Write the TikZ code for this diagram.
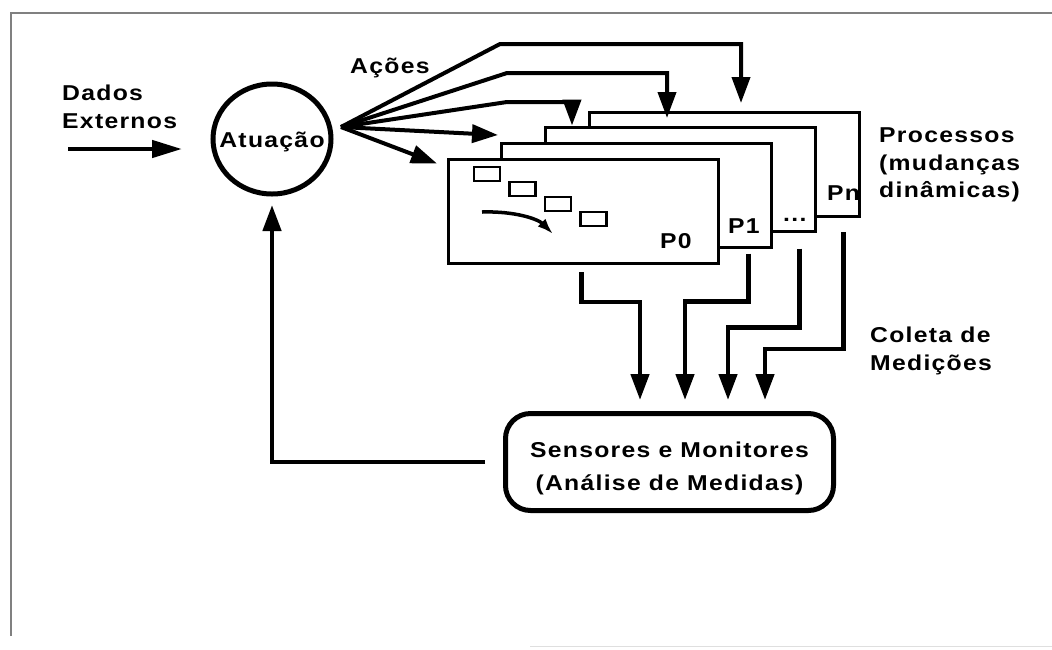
\documentclass[tikz,border=0pt]{standalone}
\usepackage{fontspec}
\newfontfamily\lblfont{Liberation Sans}[FakeStretch=1.15,LetterSpace=6]
\usetikzlibrary{arrows.meta,calc,positioning,shapes.geometric}

\begin{document}
\begin{tikzpicture}[x=1pt,y=-1pt,>={Triangle[length=26pt,width=18pt]},
  lbl/.style={font=\lblfont\bfseries\fontsize{21.5pt}{27.5pt}\selectfont,inner sep=0pt,align=left},
  proc/.style={draw,line width=3pt,fill=white,minimum width=270pt,minimum height=104pt,inner sep=0pt},
  act/.style={->,line width=4pt},
  flow/.style={->,line width=4.5pt}]
  \useasboundingbox (0,0) rectangle (1052,649);
  \draw[gray,line width=1.5pt] (11,636) -- (11,13) -- (1052,13);
  \draw[gray!25,line width=1pt] (530,646) -- (1052,646);

  \node[lbl,anchor=north west] (dados) at (62,85) {Dados\\Externos};
  \coordinate (inA) at (68,149);
  \coordinate (inB) at (182,149);
  \draw[flow,>={Triangle[length=30pt,width=17pt]}] (inA) -- (inB);

  \node[ellipse,draw,line width=5pt,minimum width=118pt,minimum height=110pt,
    label={[lbl,yshift=-3pt]center:Atuação}] (act) at (272,139) {};

  \node[proc] (pn) at (724,164.5) {};
  \node[proc] (pd) at (680,179) {};
  \node[proc] (p1) at (636,195) {};
  \node[proc] (p0) at (583,211.5) {};
  \node[lbl,anchor=base west] (lp0) at (660,248) {P0};
  \node[lbl,anchor=base west] (lp1) at (728,233) {P1};
  \node[lbl,anchor=base west] (lpd) at (783,221) {...};
  \node[lbl,anchor=base west] (lpn) at (827,200) {Pn};
  \foreach \i in {0,...,3}
    \draw[line width=2.5pt] (474+35.5*\i,167+15*\i) rectangle ++(26,14);
  \draw[line width=3.5pt,-{Latex[length=16pt,width=11pt]}] (482,212) .. controls (515,211) and (538,219) .. (553,234);

  \node[lbl,anchor=base west] (acoes) at (350,73) {Ações};
  \coordinate (fan) at (341,127);
  \draw[act,shorten >=8pt] (fan) -- (500,44) -| ([xshift=17pt]pn.north);
  \draw[act,shorten >=7.5pt] (fan) -- (507,73) -| ([xshift=-13pt]pd.north);
  \draw[act] (fan) -- (507,102) -| ([xshift=-108pt]pd.north);
  \draw[act] (fan) -- ($(p1.north west)+(-1.5,-6.5)$);
  \draw[act] (fan) -- ($(p0.north west)+(-9.5,5.5)$);

  \node[lbl,anchor=north west] (proc) at (879,128) {Processos\\(mudanças\\dinâmicas)};
  \node[lbl,anchor=north west] (coleta) at (870,327) {Coleta de\\Medições};

  \node[draw,rounded corners=25pt,line width=5pt,minimum width=328pt,minimum height=97pt,
    label={[lbl,font=\lblfont\bfseries\fontsize{21.5pt}{33pt}\selectfont,align=center,yshift=-6pt]center:Sensores e Monitores\\(Análise de Medidas)}] (sens) at (669.5,462) {};

  \foreach \s/\dx/\dy/\tx/\sh in {p0/-138/37/-29.5/7,p1/-24/53/15.5/5,pd/-17/95/58.5/16,pn/-17/131/95.5/14}
    \draw[flow,shorten <=\sh pt,shorten >=11pt] ([xshift=\dx pt]\s.south east) -- ++(0,\dy) -| ([xshift=\tx pt]sens.north);
  \draw[flow,shorten <=18pt,shorten >=8.5pt] (sens.west) -| (act.south);
\end{tikzpicture}
\end{document}
